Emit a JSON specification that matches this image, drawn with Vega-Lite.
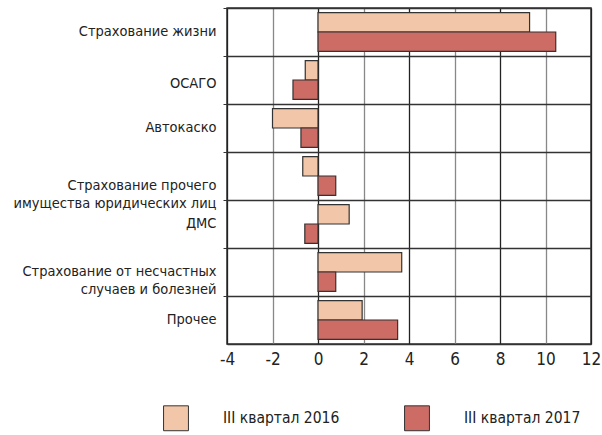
{
  "$schema": "https://vega.github.io/schema/vega-lite/v6.json",
  "autosize": {"type": "none"},
  "padding": {"left": 227, "top": 8, "right": 11, "bottom": 91},
  "width": 364,
  "height": 336,
  "config": {
    "font": "'DejaVu Sans Condensed', Roboto, sans-serif",
    "view": {"stroke": "#333", "strokeWidth": 1.5}
  },
  "data": {
    "values": [
      {"cat": "Страхование жизни", "series": "III квартал 2016", "value": 9.3},
      {"cat": "Страхование жизни", "series": "III квартал 2017", "value": 10.45},
      {"cat": "ОСАГО", "series": "III квартал 2016", "value": -0.56},
      {"cat": "ОСАГО", "series": "III квартал 2017", "value": -1.1},
      {"cat": "Автокаско", "series": "III квартал 2016", "value": -2.0},
      {"cat": "Автокаско", "series": "III квартал 2017", "value": -0.75},
      {"cat": "Страхование прочего|имущества юридических лиц", "series": "III квартал 2016", "value": -0.67},
      {"cat": "Страхование прочего|имущества юридических лиц", "series": "III квартал 2017", "value": 0.78},
      {"cat": "ДМС", "series": "III квартал 2016", "value": 1.37},
      {"cat": "ДМС", "series": "III квартал 2017", "value": -0.58},
      {"cat": "Страхование от несчастных|случаев и болезней", "series": "III квартал 2016", "value": 3.68},
      {"cat": "Страхование от несчастных|случаев и болезней", "series": "III квартал 2017", "value": 0.78},
      {"cat": "Прочее", "series": "III квартал 2016", "value": 1.94},
      {"cat": "Прочее", "series": "III квартал 2017", "value": 3.5}
    ]
  },
  "mark": {"type": "bar", "stroke": "#333", "strokeWidth": 1.2},
  "encoding": {
    "y": {
      "field": "cat",
      "type": "nominal",
      "sort": null,
      "title": null,
      "scale": {"paddingInner": 0, "paddingOuter": 0},
      "axis": {
        "bandPosition": 0,
        "grid": true,
        "gridColor": "#333",
        "gridOpacity": 1,
        "gridWidth": 1.3,
        "domain": false,
        "tickColor": "#333",
        "tickSize": 4,
        "labelOffset": {"expr": "datum.value == 'Страхование прочего|имущества юридических лиц' ? 10 : (datum.value == 'ОСАГО' ? 4 : 0)"},
        "labelPadding": 7,
        "labelLimit": 250,
        "labelExpr": "split(datum.value, '|')",
        "labelFontSize": 14.5,
        "labelColor": "#222",
        "labelLineHeight": 18
      }
    },
    "yOffset": {
      "field": "series",
      "type": "nominal",
      "scale": {"paddingOuter": 0.24, "paddingInner": 0}
    },
    "x": {
      "field": "value",
      "type": "quantitative",
      "title": null,
      "scale": {"domain": [-4, 12], "nice": false, "zero": false},
      "axis": {
        "values": [-4, -2, 0, 2, 4, 6, 8, 10, 12],
        "grid": true,
        "gridColor": {"condition": {"test": "datum.value % 4 == 0", "value": "#222"}, "value": "#888"},
        "gridOpacity": 1,
        "gridWidth": 1.3,
        "ticks": false,
        "domainColor": "#333",
        "domainWidth": 1.5,
        "labelPadding": 7,
        "labelFontSize": 17,
        "labelColor": "#222",
        "labelFlush": false,
        "labelExpr": "replace(datum.label, '−', '-')"
      }
    },
    "color": {
      "field": "series",
      "type": "nominal",
      "title": null,
      "scale": {"range": ["#F2C6A8", "#CD6B65"]},
      "legend": {
        "orient": "none",
        "legendX": -64,
        "legendY": 397,
        "direction": "horizontal",
        "symbolType": "square",
        "symbolSize": 620,
        "symbolStrokeColor": "#333",
        "symbolStrokeWidth": 1,
        "labelFontSize": 15.5,
        "labelColor": "#222",
        "labelOffset": 34,
        "labelLimit": 200,
        "columnPadding": 62
      }
    }
  }
}
